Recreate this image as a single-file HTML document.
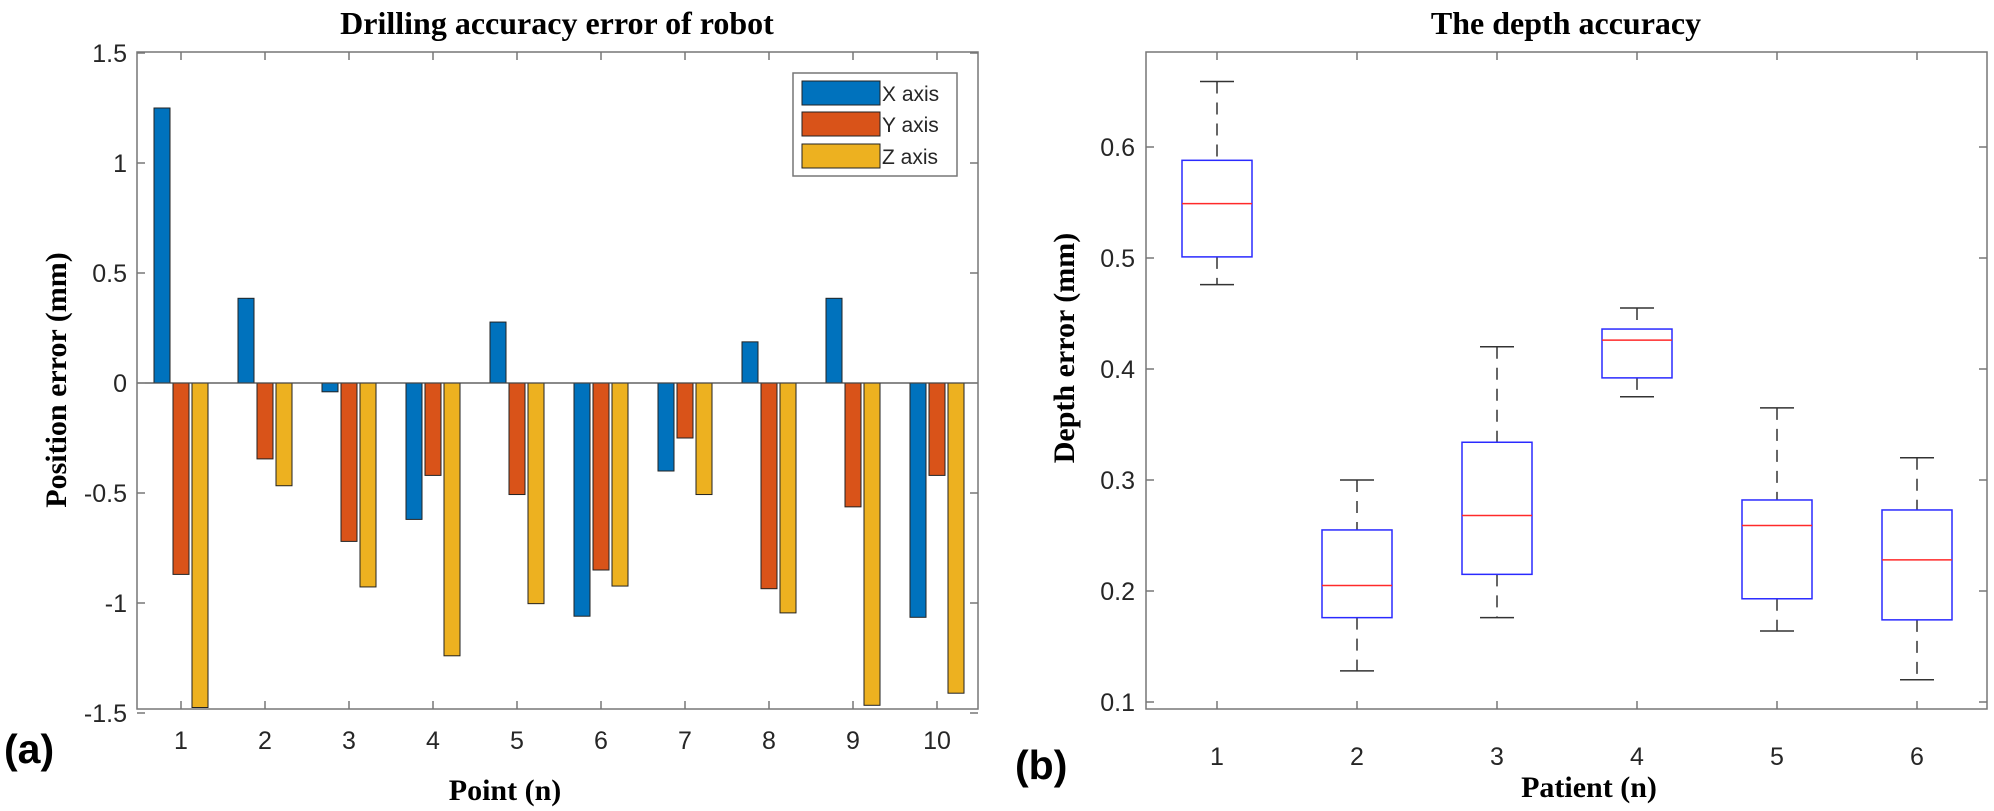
<!DOCTYPE html>
<html><head><meta charset="utf-8"><style>
html,body{margin:0;padding:0;background:#fff}
svg{display:block}
.t{font-family:"Liberation Sans",Arial,sans-serif;fill:#262626}
.s{font-family:"Liberation Serif","Times New Roman",serif;font-weight:bold;fill:#000}
</style></head><body>
<svg width="1994" height="811" viewBox="0 0 1994 811" xmlns="http://www.w3.org/2000/svg">
<rect width="1994" height="811" fill="#fff"/>
<g id="left"></g>
<g id="right"></g>
<script>
(function(){
var NS="http://www.w3.org/2000/svg";
function el(p,tag,a,txt){var e=document.createElementNS(NS,tag);for(var k in a)e.setAttribute(k,a[k]);if(txt!=null)e.textContent=txt;p.appendChild(e);return e;}
var L=document.getElementById('left');
var x0=137,x1=978,y0=52,y1=709;
function yv(v){return 383-v*220;}
function xp(i){return 181+84*(i-1);}
var d=[[1.25,-0.87,-1.475],[0.385,-0.345,-0.467],[-0.04,-0.72,-0.927],[-0.62,-0.42,-1.24],[0.277,-0.507,-1.003],[-1.06,-0.85,-0.923],[-0.40,-0.25,-0.507],[0.187,-0.935,-1.045],[0.385,-0.563,-1.465],[-1.065,-0.42,-1.41]];
var cols=["#0072BD","#D95319","#EDB120"],off=[-19,0,19];
for(var i=0;i<10;i++){for(var j=0;j<3;j++){var v=d[i][j];var ya=yv(v),yb=yv(0);el(L,'rect',{x:xp(i+1)+off[j]-8,y:Math.min(ya,yb),width:16,height:Math.abs(ya-yb),fill:cols[j],stroke:"#222","stroke-width":1});}}
el(L,'line',{x1:x0,y1:383,x2:x1,y2:383,stroke:"#444","stroke-width":1.2});
el(L,'rect',{x:x0,y:y0,width:x1-x0,height:y1-y0,fill:"none",stroke:"#777","stroke-width":1.5});
for(var i=1;i<=10;i++){var x=xp(i);el(L,'line',{x1:x,y1:y1,x2:x,y2:y1-8,stroke:"#777","stroke-width":1.5});el(L,'line',{x1:x,y1:y0,x2:x,y2:y0+8,stroke:"#777","stroke-width":1.5});el(L,'text',{x:x,y:749,"text-anchor":"middle","font-size":25,"class":"t"},String(i));}
var yt=[1.5,1,0.5,0,-0.5,-1,-1.5];
yt.forEach(function(v){var y=yv(v);el(L,'line',{x1:x0,y1:y,x2:x0+8,y2:y,stroke:"#777","stroke-width":1.5});el(L,'line',{x1:x1,y1:y,x2:x1-8,y2:y,stroke:"#777","stroke-width":1.5});el(L,'text',{x:127,y:y+9,"text-anchor":"end","font-size":25,"class":"t"},String(v));});
el(L,'rect',{x:793,y:73,width:164,height:103,fill:"#fff",stroke:"#777","stroke-width":1.5});
var ln=["X axis","Y axis","Z axis"],ly=[81,112,144];
for(var j=0;j<3;j++){el(L,'rect',{x:802,y:ly[j],width:78,height:24,fill:cols[j],stroke:"#222","stroke-width":1});el(L,'text',{x:882,y:ly[j]+20,"font-size":21,"class":"t",fill:"#000"},ln[j]);}
el(L,'text',{x:557,y:34,"text-anchor":"middle","font-size":32,"class":"s"},"Drilling accuracy error of robot");
el(L,'text',{x:505,y:800,"text-anchor":"middle","font-size":30,"class":"s"},"Point (n)");
el(L,'text',{x:0,y:0,"text-anchor":"middle","font-size":30,"class":"s",transform:"translate(66,380) rotate(-90)"},"Position error (mm)");
el(L,'text',{x:4,y:763,"font-size":41,"font-weight":"bold","font-family":"Liberation Sans,Arial,sans-serif",fill:"#000"},"(a)");
var R=document.getElementById('right');
var X0=1146,X1=1987;
function yr(v){return 813-1110*v;}
function xr(i){return 1217+140*(i-1);}
var b=[[0.659,0.588,0.549,0.501,0.476],[0.300,0.255,0.205,0.176,0.128],[0.420,0.334,0.268,0.215,0.176],[0.455,0.436,0.426,0.392,0.375],[0.365,0.282,0.259,0.193,0.164],[0.320,0.273,0.228,0.174,0.120]];
el(R,'rect',{x:X0,y:y0,width:X1-X0,height:y1-y0,fill:"none",stroke:"#777","stroke-width":1.5});
for(var i=0;i<6;i++){var c=xr(i+1),q=b[i];
el(R,'line',{x1:c,y1:yr(q[0]),x2:c,y2:yr(q[1]),stroke:"#333","stroke-width":1.5,"stroke-dasharray":"12,9"});
el(R,'line',{x1:c,y1:yr(q[3]),x2:c,y2:yr(q[4]),stroke:"#333","stroke-width":1.5,"stroke-dasharray":"12,9"});
el(R,'line',{x1:c-17,y1:yr(q[0]),x2:c+17,y2:yr(q[0]),stroke:"#333","stroke-width":1.5});
el(R,'line',{x1:c-17,y1:yr(q[4]),x2:c+17,y2:yr(q[4]),stroke:"#333","stroke-width":1.5});
el(R,'rect',{x:c-35,y:yr(q[1]),width:70,height:yr(q[3])-yr(q[1]),fill:"none",stroke:"#2a2aff","stroke-width":1.5});
el(R,'line',{x1:c-35,y1:yr(q[2]),x2:c+35,y2:yr(q[2]),stroke:"#ff2a2a","stroke-width":1.5});
el(R,'line',{x1:c,y1:y1,x2:c,y2:y1-8,stroke:"#777","stroke-width":1.5});el(R,'line',{x1:c,y1:y0,x2:c,y2:y0+8,stroke:"#777","stroke-width":1.5});
el(R,'text',{x:c,y:765,"text-anchor":"middle","font-size":25,"class":"t"},String(i+1));}
[0.1,0.2,0.3,0.4,0.5,0.6].forEach(function(v){var y=yr(v);el(R,'line',{x1:X0,y1:y,x2:X0+8,y2:y,stroke:"#777","stroke-width":1.5});el(R,'line',{x1:X1,y1:y,x2:X1-8,y2:y,stroke:"#777","stroke-width":1.5});el(R,'text',{x:1135,y:y+9,"text-anchor":"end","font-size":25,"class":"t"},v.toFixed(1));});
el(R,'text',{x:1566,y:34,"text-anchor":"middle","font-size":32,"class":"s"},"The depth accuracy");
el(R,'text',{x:1589,y:797,"text-anchor":"middle","font-size":30,"class":"s"},"Patient (n)");
el(R,'text',{x:0,y:0,"text-anchor":"middle","font-size":30,"class":"s",transform:"translate(1074,348) rotate(-90)"},"Depth error (mm)");
el(R,'text',{x:1015,y:779,"font-size":41,"font-weight":"bold","font-family":"Liberation Sans,Arial,sans-serif",fill:"#000"},"(b)");
})();
</script>
</svg>
</body></html>
